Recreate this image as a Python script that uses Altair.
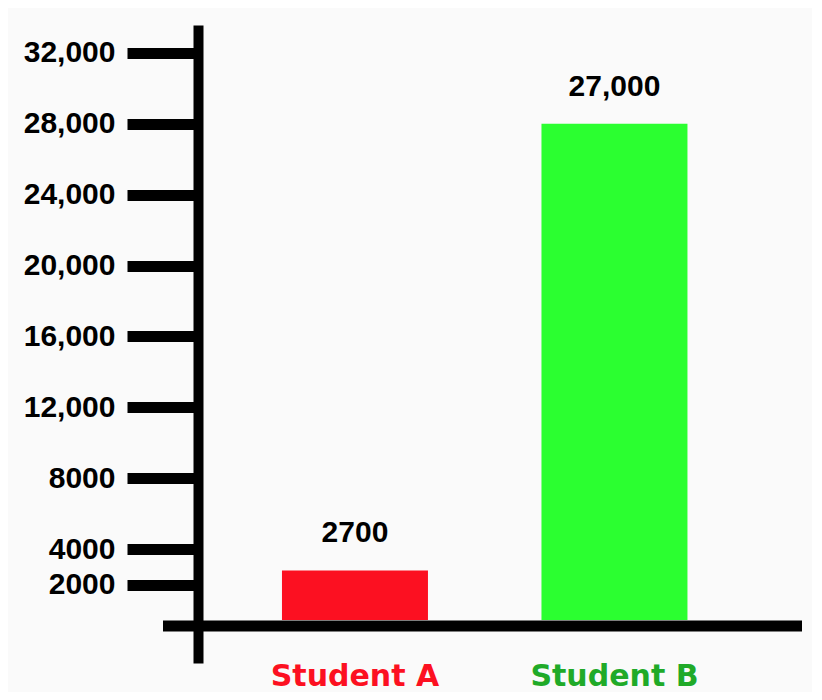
import altair as alt
import pandas as pd

students = ["Student A", "Student B"]
bar_values = [2800, 28000]
value_labels = ["2700", "27,000"]
bar_colors = ["#FC1021", "#2BFF30"]
label_colors = ["#FC1021", "#20AA28"]
tick_values = [2000, 4000, 8000, 12000, 16000, 20000, 24000, 28000, 32000]

df = pd.DataFrame({
    "student": students,
    "value": bar_values,
    "value_label": value_labels,
    "bar_color": bar_colors,
    "label_color": label_colors,
})

W, H = 604, 638
y_scale = alt.Scale(domain=[-2427, 33580], nice=False, zero=False)
x_scale = alt.Scale(domain=students, paddingInner=0.4374, paddingOuter=0.3825, align=0.423)
x_enc = alt.X("student:N", scale=x_scale, axis=None)

base = alt.Chart(df)

bars = base.mark_bar().encode(
    x=x_enc,
    y=alt.Y("value:Q", scale=y_scale, axis=alt.Axis(
        values=tick_values, title=None, grid=False,
        domainColor="black", domainWidth=10,
        tickColor="black", tickWidth=11, tickSize=71,
        labelFont="Liberation Sans", labelFontWeight="bold", labelFontSize=30,
        labelColor="black", labelPadding=12, labelOverlap=False, labelFlush=False,
        labelExpr="datum.value >= 10000 ? format(datum.value, ',') : format(datum.value, 'd')",
    )),
    color=alt.Color("bar_color:N", scale=None),
)

rule = alt.Chart(pd.DataFrame({"a": [0]})).mark_rule(
    color="black", strokeWidth=11, strokeCap="butt"
).encode(x=alt.value(-35), x2=alt.value(W), y=alt.value(601))

vals = base.mark_text(
    dy=-28, baseline="alphabetic", font="Liberation Sans", fontWeight="bold",
    fontSize=30, color="black"
).encode(x=x_enc, y=alt.Y("value:Q", scale=y_scale), text="value_label:N")

cats = base.mark_text(
    baseline="alphabetic", font="DejaVu Sans", fontWeight="bold", fontSize=30
).encode(
    x=x_enc, y=alt.value(661), text="student:N",
    color=alt.Color("label_color:N", scale=None),
)

chart = alt.layer(bars, rule, vals, cats).properties(
    width=W, height=H,
    autosize=alt.AutoSizeParams(type="none"),
    padding={"left": 190, "top": 17, "right": 10, "bottom": 29},
    background="#FAFAFA",
).configure_view(stroke=None)

chart.save("out.html", embed_options={"renderer": "svg", "actions": False})
